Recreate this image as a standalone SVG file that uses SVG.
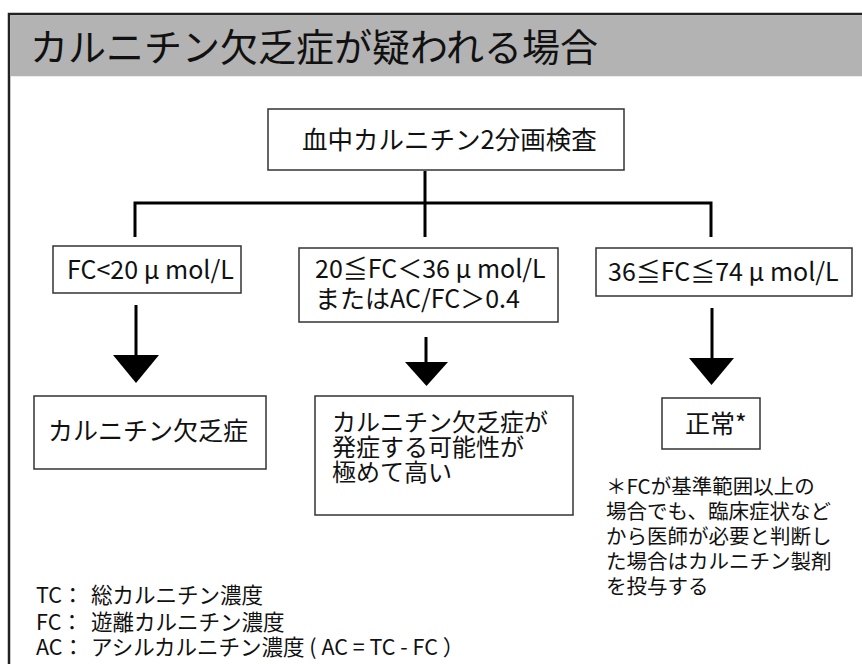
<svg xmlns="http://www.w3.org/2000/svg" width="862" height="664" viewBox="0 0 862 664">
<style>
text{font-family:"Noto Sans CJK JP","Noto Sans",sans-serif;fill:#111}
.box{fill:#fff;stroke:#333;stroke-width:1.5}
.ln{stroke:#000;stroke-width:3;fill:none}
.hd{fill:#000}
.t26{font-size:25.5px}
.t25{font-size:25px}
.t24{font-size:24px}
.n{font-size:20.5px}
.lg{font-size:21.5px}
</style>
<rect x="0" y="0" width="862" height="664" fill="#fff"/>
<g id="frame">
<rect x="9" y="14" width="900" height="700" fill="#fff" stroke="#222" stroke-width="2.5"/>
<rect x="10.25" y="15.25" width="860" height="61" fill="#b3b3b3"/>
<text x="30" y="61" style="font-size:38px">カルニチン欠乏症が疑われる場合</text>
</g>
<g id="connectors">
<path class="ln" d="M425 171V237M135 203H711M135 201.5V237M711 201.5V237"/>
<path class="ln" d="M136 305V356M426 337V363M712 308V359"/>
<path class="hd" d="M113 355H159L136 383Z"/>
<path class="hd" d="M405 362H448L426.5 386Z"/>
<path class="hd" d="M689 358H734L711.5 385Z"/>
</g>
<g id="n_test">
<rect class="box" x="268" y="109" width="356" height="61"/>
<text class="t26" x="302" y="149">血中カルニチン2分画検査</text>
</g>
<g id="n_fc20">
<rect class="box" x="53" y="246" width="188" height="47"/>
<text class="t25" x="67" y="279">FC&lt;20 μ mol/L</text>
</g>
<g id="n_fc2036">
<rect class="box" x="299" y="248" width="259" height="74"/>
<text class="t25"><tspan x="315" y="278">20≦FC＜36 μ mol/L</tspan><tspan x="315" y="308">またはAC/FC＞0.4</tspan></text>
</g>
<g id="n_fc3674">
<rect class="box" x="596" y="248" width="256" height="48"/>
<text class="t25" x="608" y="281">36≦FC≦74 μ mol/L</text>
</g>
<g id="n_def">
<rect class="box" x="34" y="396" width="232" height="73"/>
<text class="t25" x="48" y="440">カルニチン欠乏症</text>
</g>
<g id="n_risk">
<rect class="box" x="315" y="396" width="258" height="119"/>
<text class="t24"><tspan x="332" y="431">カルニチン欠乏症が</tspan><tspan x="332" y="456">発症する可能性が</tspan><tspan x="332" y="481">極めて高い</tspan></text>
</g>
<g id="n_normal">
<rect class="box" x="662" y="398" width="98" height="51"/>
<text class="t25" x="685" y="433">正常*</text>
</g>
<g id="note">
<text class="n"><tspan x="606" y="494">＊FCが基準範囲以上の</tspan><tspan x="606" y="519">場合でも、臨床症状など</tspan><tspan x="606" y="544">から医師が必要と判断し</tspan><tspan x="606" y="569">た場合はカルニチン製剤</tspan><tspan x="606" y="594">を投与する</tspan></text>
</g>
<g id="legend">
<text class="lg"><tspan x="36" y="603">TC：</tspan><tspan x="91" y="603">総カルニチン濃度</tspan><tspan x="36" y="630">FC：</tspan><tspan x="91" y="630">遊離カルニチン濃度</tspan><tspan x="36" y="655">AC：</tspan><tspan x="91" y="655">アシルカルニチン濃度 ( AC = TC - FC ）</tspan></text>
</g>
</svg>
